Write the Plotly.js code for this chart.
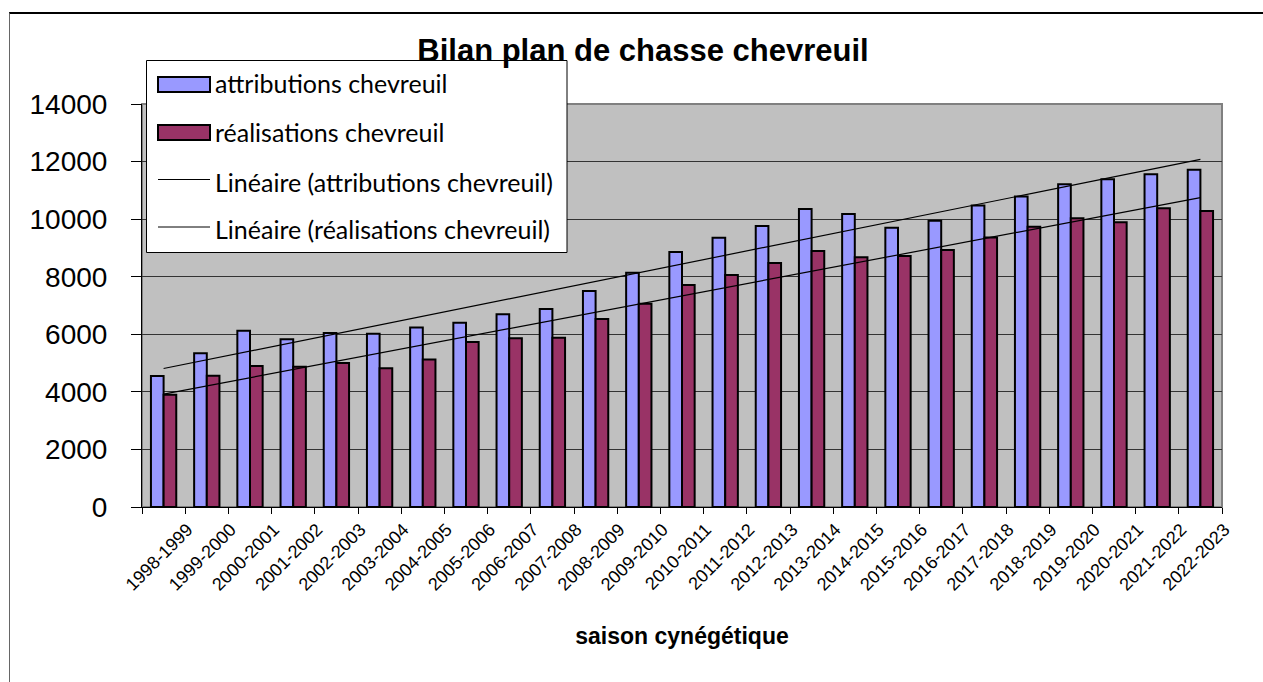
<!DOCTYPE html>
<html>
<head>
<meta charset="utf-8">
<script src="https://cdn.plot.ly/plotly-3.0.1.min.js"></script>
<style>
  html, body { margin:0; padding:0; background:#fff; overflow:hidden; }
  #frame { position:absolute; left:9px; top:12px; width:1400px; height:800px;
           border-top:2px solid #000; border-left:1px solid #666; }
  #chart { position:absolute; left:0; top:0; width:1263px; height:682px; }
</style>
</head>
<body>
<div id="frame"></div>
<div id="chart"></div>
<script>
// ---- data ----
const seasons = ['1998-1999','1999-2000','2000-2001','2001-2002','2002-2003','2003-2004',
  '2004-2005','2005-2006','2006-2007','2007-2008','2008-2009','2009-2010','2010-2011',
  '2011-2012','2012-2013','2013-2014','2014-2015','2015-2016','2016-2017','2017-2018',
  '2018-2019','2019-2020','2020-2021','2021-2022','2022-2023'];
const attributions = [4550,5340,6125,5830,6045,6020,6240,6400,6700,6880,7500,8140,8860,
  9350,9760,10350,10180,9700,9940,10470,10790,11210,11390,11560,11720];
const realisations = [3900,4560,4900,4870,5000,4820,5120,5730,5860,5880,6530,7060,7710,
  8060,8480,8890,8680,8720,8930,9360,9740,10030,9890,10380,10280];
const seriesNames = ['attributions chevreuil','réalisations chevreuil',
  'Linéaire (attributions chevreuil)','Linéaire (réalisations chevreuil)'];
const titleText = 'Bilan plan de chasse chevreuil';
const xTitle = 'saison cynégétique';

// least-squares linear trend (as the spreadsheet trendline does)
function linFit(v){
  const n=v.length; let sx=0,sy=0,sxx=0,sxy=0;
  v.forEach((y,i)=>{sx+=i;sy+=y;sxx+=i*i;sxy+=i*y;});
  const b=(n*sxy-sx*sy)/(n*sxx-sx*sx), a=(sy-b*sx)/n;
  return v.map((_,i)=>a+b*i);
}

const W=1263,H=682,L=142,R=41,T=104,B=175;
const pw=W-L-R, ph=H-T-B;
const px=x=>(x-L)/pw, py=y=>(H-B-y)/ph;

const traces=[
  {type:'bar',name:seriesNames[0],x:seasons,y:attributions,
   marker:{color:'#9999FF',line:{color:'#000',width:2}}},
  {type:'bar',name:seriesNames[1],x:seasons,y:realisations,
   marker:{color:'#993366',line:{color:'#000',width:2}}},
  {type:'scatter',mode:'lines',name:seriesNames[2],x:seasons,y:linFit(attributions),
   line:{color:'#000',width:1.2}},
  {type:'scatter',mode:'lines',name:seriesNames[3],x:seasons,y:linFit(realisations),
   line:{color:'#000',width:1.2}}
];

// manual legend (box, swatches, text)
const sw=[[77,92],[125,140]];
const shapes=[
  {type:'rect',xref:'paper',yref:'paper',x0:0,x1:1,y0:0,y1:1,layer:'below',
   line:{color:'#808080',width:2},fillcolor:'rgba(0,0,0,0)'},
  {type:'rect',xref:'paper',yref:'paper',x0:px(146.5),x1:px(567),y0:py(60.5),y1:py(252.5),
   layer:'above',line:{color:'#000',width:1},fillcolor:'#fff'},
  {type:'rect',xref:'paper',yref:'paper',x0:px(158),x1:px(210),y0:py(sw[0][0]),y1:py(sw[0][1]),
   layer:'above',line:{color:'#000',width:2},fillcolor:'#9999FF'},
  {type:'rect',xref:'paper',yref:'paper',x0:px(158),x1:px(210),y0:py(sw[1][0]),y1:py(sw[1][1]),
   layer:'above',line:{color:'#000',width:2},fillcolor:'#993366'},
  {type:'line',xref:'paper',yref:'paper',x0:px(158),x1:px(210),y0:py(179.5),y1:py(179.5),
   layer:'above',line:{color:'#000',width:1}},
  {type:'line',xref:'paper',yref:'paper',x0:px(158),x1:px(210),y0:py(227),y1:py(227),
   layer:'above',line:{color:'#000',width:1}}
];
const legY=[83,131.5,182,229];
const annotations=seriesNames.map((t,i)=>({
  xref:'paper',yref:'paper',x:px(213),y:py(legY[i]),xanchor:'left',yanchor:'middle',
  text:t,showarrow:false,font:{family:'Lato, sans-serif',size:25,color:'#000'}
}));

const layout={
  width:W,height:H,
  margin:{l:L,r:R,t:T,b:B,pad:0},
  paper_bgcolor:'rgba(0,0,0,0)',plot_bgcolor:'#C0C0C0',
  showlegend:false,
  barmode:'group',bargap:0.414,bargroupgap:0,
  title:{text:titleText,xref:'container',yref:'container',x:643/W,xanchor:'center',
         y:1-50/H,yanchor:'middle',
         font:{family:'Liberation Sans, Arial, sans-serif',size:31,weight:'bold',color:'#000'}},
  xaxis:{type:'category',showgrid:false,showline:true,linecolor:'#000',linewidth:1,
         ticks:'outside',tickson:'boundaries',ticklen:6,tickcolor:'#000',tickwidth:1,
         tickangle:-45,ticklabelstandoff:4,ticklabelshift:24,
         tickfont:{family:'Liberation Sans, Arial, sans-serif',size:18,color:'#000'},
         title:{text:xTitle,standoff:34,
                font:{family:'Liberation Sans, Arial, sans-serif',size:23,weight:'bold',color:'#000'}},
         zeroline:false,fixedrange:true},
  yaxis:{range:[0,14000],dtick:2000,tickformat:'d',showgrid:true,gridcolor:'#333',gridwidth:1,
         showline:true,linecolor:'#000',linewidth:1,zeroline:false,
         ticks:'outside',ticklen:10,tickcolor:'#000',tickwidth:1,ticklabelstandoff:18,
         tickfont:{family:'Liberation Sans, Arial, sans-serif',size:28,color:'#000'},
         fixedrange:true},
  shapes:shapes,annotations:annotations,hovermode:false
};
Plotly.newPlot('chart',traces,layout,{staticPlot:true,displayModeBar:false});
</script>
</body>
</html>
